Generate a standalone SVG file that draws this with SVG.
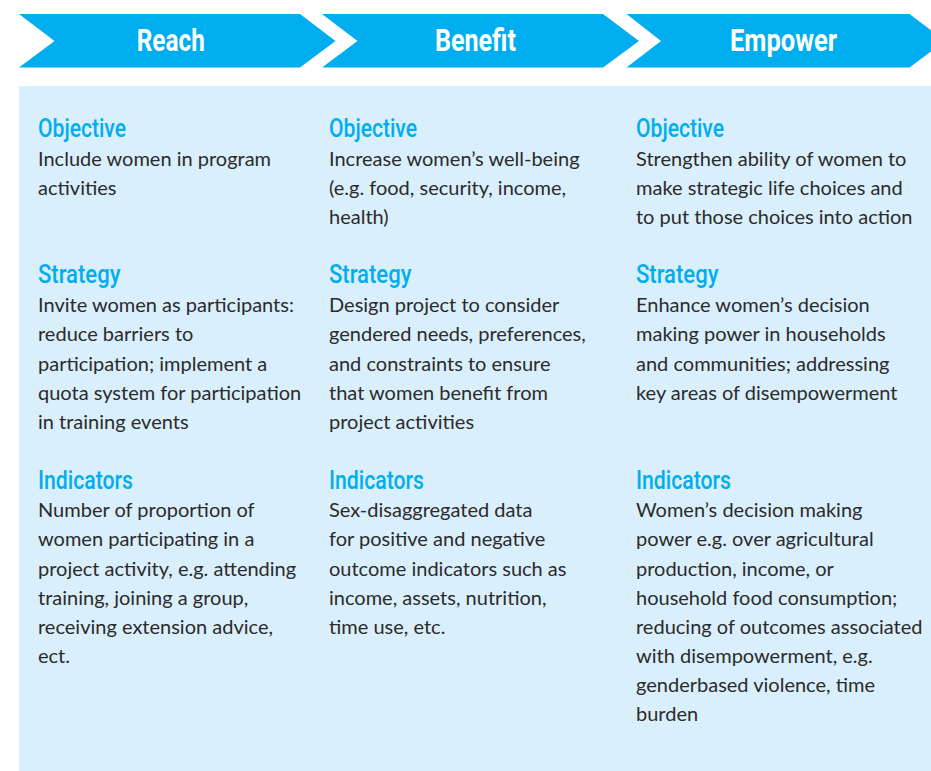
<svg xmlns="http://www.w3.org/2000/svg" width="931" height="771" viewBox="0 0 931 771">
<style>
.chev{fill:#00aeef}
.hd{font-family:Roboto,"Liberation Sans",sans-serif;font-weight:700;font-size:31px;fill:#ffffff;text-anchor:middle}
.sh{font-family:Roboto,"Liberation Sans",sans-serif;font-weight:500;font-size:25px;fill:#00aeef}
.bd{font-family:Lato,"Liberation Sans",sans-serif;font-size:20px;fill:#2b2b2b}
</style>
<rect x="0" y="0" width="931" height="771" fill="#ffffff"/>
<rect id="panel" x="19" y="86" width="912" height="685" fill="#daeffc"/>
<g id="reach">
<polygon class="chev" points="19,14 300,14 335.5,41 300,67.5 19,67.5 54.5,41"/>
<text class="hd" x="170.8" y="51" textLength="68" lengthAdjust="spacingAndGlyphs">Reach</text>
</g>
<g id="benefit">
<polygon class="chev" points="322,14 603,14 639,41 603,67.5 322,67.5 357.5,41"/>
<text class="hd" x="475.4" y="51" textLength="81" lengthAdjust="spacingAndGlyphs">Benefit</text>
</g>
<g id="empower">
<polygon class="chev" points="626.5,14 909.5,14 945,41 909.5,67.5 626.5,67.5 661,41"/>
<text class="hd" x="783.5" y="51" textLength="107" lengthAdjust="spacingAndGlyphs">Empower</text>
</g>
<g id="connectors"></g>
<g id="col-reach">
<text class="sh" x="38" y="137" textLength="88" lengthAdjust="spacingAndGlyphs">Objective</text>
<text class="bd" x="38" y="165.5">Include women in program</text>
<text class="bd" x="38" y="194.5">activities</text>
<text class="sh" x="38" y="283" textLength="82.5" lengthAdjust="spacingAndGlyphs">Strategy</text>
<text class="bd" x="38" y="312">Invite women as participants:</text>
<text class="bd" x="38" y="341">reduce barriers to</text>
<text class="bd" x="38" y="370.5">participation; implement a</text>
<text class="bd" x="38" y="400">quota system for participation</text>
<text class="bd" x="38" y="429">in training events</text>
<text class="sh" x="38" y="488.5" textLength="95" lengthAdjust="spacingAndGlyphs">Indicators</text>
<text class="bd" x="38" y="517">Number of proportion of</text>
<text class="bd" x="38" y="546">women participating in a</text>
<text class="bd" x="38" y="575.5">project activity, e.g. attending</text>
<text class="bd" x="38" y="604.5">training, joining a group,</text>
<text class="bd" x="38" y="634">receiving extension advice,</text>
<text class="bd" x="38" y="663">ect.</text>
</g>
<g id="col-benefit">
<text class="sh" x="329" y="137" textLength="88" lengthAdjust="spacingAndGlyphs">Objective</text>
<text class="bd" x="329" y="165.5">Increase women’s well-being</text>
<text class="bd" x="329" y="194.5">(e.g. food, security, income,</text>
<text class="bd" x="329" y="223.5">health)</text>
<text class="sh" x="329" y="283" textLength="82.5" lengthAdjust="spacingAndGlyphs">Strategy</text>
<text class="bd" x="329" y="312">Design project to consider</text>
<text class="bd" x="329" y="341">gendered needs, preferences,</text>
<text class="bd" x="329" y="370.5">and constraints to ensure</text>
<text class="bd" x="329" y="400">that women benefit from</text>
<text class="bd" x="329" y="429">project activities</text>
<text class="sh" x="329" y="488.5" textLength="95" lengthAdjust="spacingAndGlyphs">Indicators</text>
<text class="bd" x="329" y="517">Sex-disaggregated data</text>
<text class="bd" x="329" y="546">for positive and negative</text>
<text class="bd" x="329" y="575.5">outcome indicators such as</text>
<text class="bd" x="329" y="604.5">income, assets, nutrition,</text>
<text class="bd" x="329" y="634">time use, etc.</text>
</g>
<g id="col-empower">
<text class="sh" x="636" y="137" textLength="88" lengthAdjust="spacingAndGlyphs">Objective</text>
<text class="bd" x="636" y="165.5">Strengthen ability of women to</text>
<text class="bd" x="636" y="194.5">make strategic life choices and</text>
<text class="bd" x="636" y="223.5">to put those choices into action</text>
<text class="sh" x="636" y="283" textLength="82.5" lengthAdjust="spacingAndGlyphs">Strategy</text>
<text class="bd" x="636" y="312">Enhance women’s decision</text>
<text class="bd" x="636" y="341">making power in households</text>
<text class="bd" x="636" y="370.5">and communities; addressing</text>
<text class="bd" x="636" y="400">key areas of disempowerment</text>
<text class="sh" x="636" y="488.5" textLength="95" lengthAdjust="spacingAndGlyphs">Indicators</text>
<text class="bd" x="636" y="517">Women’s decision making</text>
<text class="bd" x="636" y="546">power e.g. over agricultural</text>
<text class="bd" x="636" y="575.5">production, income, or</text>
<text class="bd" x="636" y="604.5">household food consumption;</text>
<text class="bd" x="636" y="634">reducing of outcomes associated</text>
<text class="bd" x="636" y="663">with disempowerment, e.g.</text>
<text class="bd" x="636" y="692">genderbased violence, time</text>
<text class="bd" x="636" y="721">burden</text>
</g>
</svg>
